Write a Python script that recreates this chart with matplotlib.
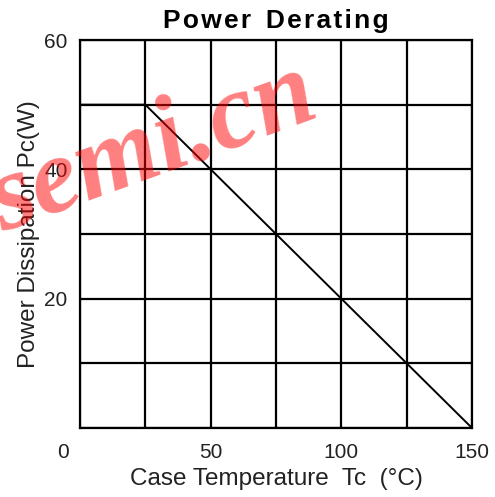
import numpy as np
import matplotlib.pyplot as plt
import matplotlib.transforms as mtransforms

plt.rcParams['font.family'] = ['Liberation Sans', 'DejaVu Sans']

# derating curve: flat up to 25 C, then linear down to 0 W at 150 C
temp = [0, 25, 150]
power = [50, 50, 0]

x_grid = [0, 25, 50, 75, 100, 125, 150]
y_grid = [0, 10, 20, 30, 40, 50, 60]
x_ticks = [0, 50, 100, 150]
y_ticks = [20, 40, 60]

fig = plt.figure(figsize=(4.95, 4.97), dpi=100)
ax = fig.add_axes([0.1616, 0.1388, 0.792, 0.7807])

ax.plot(temp, power, color='black', lw=1.4, zorder=3)

for xv in x_grid:
    ax.axvline(xv, color='black', lw=1.6, zorder=2)
for yv in y_grid:
    ax.axhline(yv, color='black', lw=1.6, zorder=2)

ax.set_xlim(0, 150)
ax.set_ylim(0, 60)
for s in ax.spines.values():
    s.set_linewidth(1.6)

ax.set_xticks(x_ticks)
ax.set_yticks(y_ticks)
ax.tick_params(length=0, labelsize=15, colors='#222222')
ax.tick_params(axis='x', pad=11)
ax.tick_params(axis='y', pad=9)

# the origin label sits left of the corner
lbl0 = ax.get_xticklabels()[0]
lbl0.set_transform(lbl0.get_transform() +
                   mtransforms.ScaledTranslation(-17 / 100, 0, fig.dpi_scale_trans))

# slightly letter-spaced title
title = '\u200a'.join('Power') + '  ' + '\u200a'.join('Derating')
ax.set_title(title, fontsize=19, fontweight='bold', pad=9)
ax.set_xlabel('Case Temperature  Tc  (\u00b0C)', fontsize=17.5, color='#222222', labelpad=4)
ax.set_ylabel('Power Dissipation Pc(W)', fontsize=17.5, color='#222222', labelpad=3)

fig.text(0.31, 0.70, 'semi.cn', fontsize=78, family='Liberation Serif',
         fontweight='bold', style='italic', color='red', alpha=0.5,
         rotation=20, ha='center', va='center', zorder=10)

fig.savefig('out.png', dpi=100)
